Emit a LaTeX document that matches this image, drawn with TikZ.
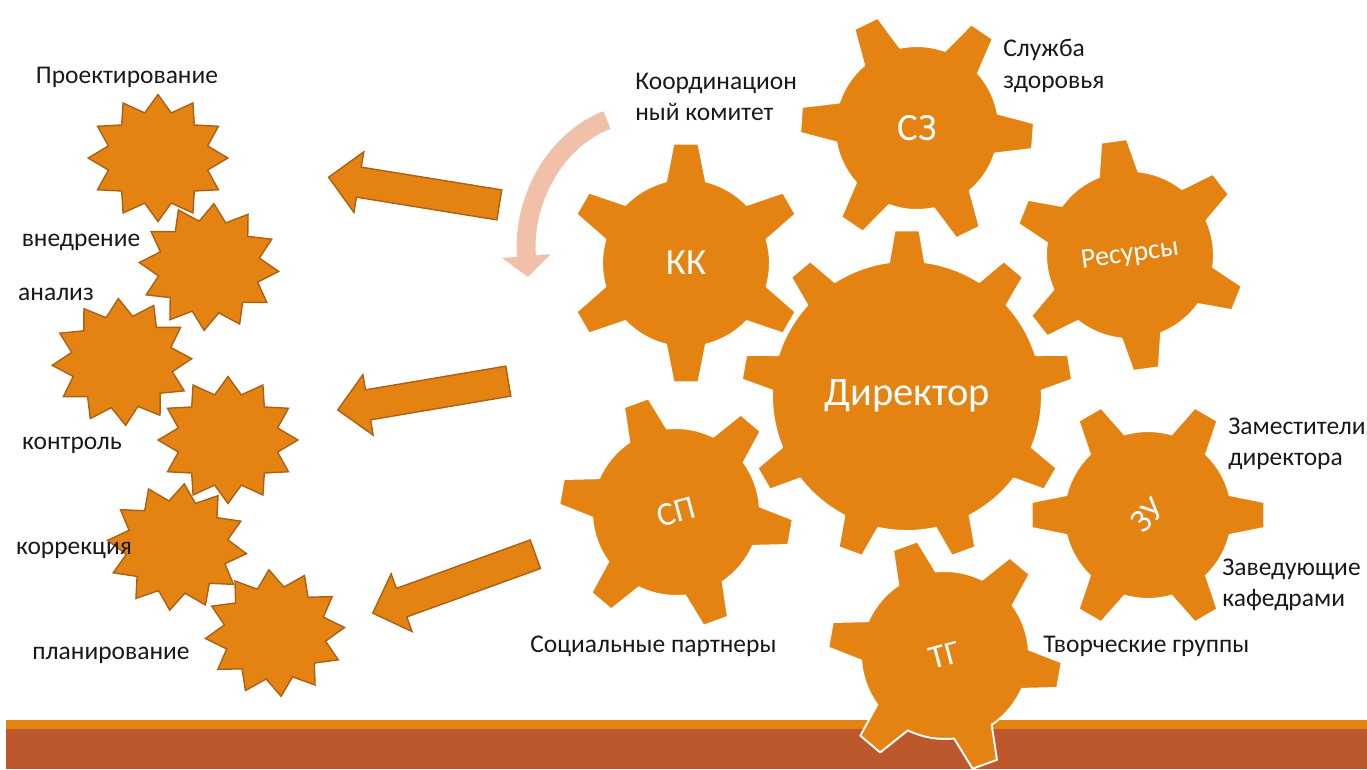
\documentclass[tikz,border=0pt]{standalone}
\usepackage{fontspec}
\setmainfont{Carlito}
\usetikzlibrary{positioning,calc,arrows.meta,shapes.geometric,shapes.arrows}

\definecolor{gearorange}{RGB}{228,131,18}
\definecolor{edgebrown}{RGB}{172,96,20}
\definecolor{rust}{RGB}{188,88,44}
\definecolor{paleorange}{RGB}{240,192,168}

% gear: centre, teeth, first tooth angle, root r, tip r, root half width, tip half width
\newcommand{\gear}[7]{%
  \pgfmathsetmacro\gstep{360/#2}%
  \pgfmathsetmacro\groot{asin(#6/#4)}%
  \pgfmathsetmacro\gtip{asin(#7/#5)}%
  \filldraw[gear body] ($(#1)+({#3-\groot}:#4)$)
    \foreach \k in {1,...,#2}{
      -- ($(#1)+({#3+(\k-1)*\gstep-\gtip}:#5)$)
      -- ($(#1)+({#3+(\k-1)*\gstep+\gtip}:#5)$)
      -- ($(#1)+({#3+(\k-1)*\gstep+\groot}:#4)$)
      arc[start angle={#3+(\k-1)*\gstep+\groot}, end angle={#3+\k*\gstep-\groot}, radius=#4]
    } -- cycle;}

\begin{document}
\begin{tikzpicture}[x=0.02cm,y=0.02cm,
  gear body/.style={fill=gearorange,draw=white,line width=1.1pt,line join=round},
  gear label/.style={text=white,inner sep=0pt},
  burst/.style={star,star points=12,star point ratio=1.36,minimum size=2.54cm,
    xscale=1.1,fill=gearorange,draw=edgebrown,line width=0.8pt,inner sep=0pt},
  block arrow/.style={single arrow,single arrow tip angle=90,single arrow head extend=0.31cm,
    minimum height=3.46cm,inner sep=0.29cm,fill=gearorange,draw=edgebrown,line width=0.8pt},
  soft arrow/.style={draw=paleorange,line width=0.38cm,-{Triangle[width=0.95cm,length=0.42cm]}},
  step label/.style={font=\fontsize{14.5}{18}\selectfont,inner sep=0pt,text=black!90},
  side label/.style={step label,align=left,anchor=west}]

  \useasboundingbox (0,0) rectangle (1367,-769);
  \clip (0,0) rectangle (1367,-769);

  % band at the bottom
  \fill[gearorange] (6,-720) rectangle (1367,-729);
  \fill[rust] (6,-729) rectangle (1367,-769);

  % stages
  \node[burst] (s1) at (158,-158) {};
  \node[burst,rotate=-4] (s2) at (209,-267) {};
  \node[burst,rotate=3] (s3) at (122,-362) {};
  \node[burst] (s4) at (228,-440) {};
  \node[burst,rotate=-6] (s5) at (177,-547) {};
  \node[burst,rotate=5] (s6) at (275,-633) {};

  \node[step label] (proj) at (127,-77) {Проектирование};
  \node[step label] (vnedr) at (81,-242) {внедрение};
  \node[step label] (anal) at (56,-294) {анализ};
  \node[step label] (kontr) at (72,-445) {контроль};
  \node[step label] (korr) at (74,-550) {коррекция};
  \node[step label] (plan) at (111,-655) {планирование};

  % arrows to the stages
  \coordinate (t1) at (500,-205);
  \coordinate (t2) at (509,-381);
  \coordinate (t3) at (536,-554);
  \node[block arrow,rotate=170.8,anchor=tail] (a1) at (t1) {};
  \node[block arrow,rotate=189.6,anchor=tail] (a2) at (t2) {};
  \node[block arrow,rotate=199.9,anchor=tail] (a3) at (t3) {};

  \coordinate (turn start) at (607,-120);
  \coordinate (turn end) at (528,-277);
  \draw[soft arrow] (turn start) .. controls (555,-140) and (522,-200) .. (turn end);

  % gears
  \coordinate (c dir) at (907,-396);
  \coordinate (c kk) at (686,-263);
  \coordinate (c sz) at (917,-128);
  \coordinate (c res) at (1130,-255);
  \coordinate (c zu) at (1148,-515);
  \coordinate (c sp) at (676,-512);
  \coordinate (c tg) at (945,-655);

  \gear{c dir}{9}{90}{135}{166}{18}{12.5}
  \gear{c kk}{6}{90}{84}{120}{20}{12.5}
  \gear{c sz}{6}{-4}{82}{117}{20}{13}
  \gear{c res}{6}{-22}{84}{116}{20}{13}
  \gear{c zu}{6}{0}{84}{117}{20}{13}
  \gear{c sp}{6}{-10}{84}{117}{20}{13}
  \gear{c tg}{6}{-10}{84}{117}{20}{13}

  \node[gear label,font=\fontsize{23}{23}\selectfont] (dir) at (c dir) {Директор};
  \node[gear label,font=\fontsize{21}{21}\selectfont] (kk) at (c kk) {КК};
  \node[gear label,font=\fontsize{22}{22}\selectfont] (sz) at (c sz) {СЗ};
  \node[gear label,font=\fontsize{16}{16}\selectfont,rotate=8] (res) at (c res) {Ресурсы};
  \node[gear label,font=\fontsize{19}{19}\selectfont,rotate=45] (zu) at (c zu) {ЗУ};
  \node[gear label,font=\fontsize{19}{19}\selectfont,rotate=15] (sp) at (c sp) {СП};
  \node[gear label,font=\fontsize{19}{19}\selectfont,rotate=15] (tg) at (c tg) {ТГ};

  % captions of the gears
  \node[side label] (kk text) at (635,-97) {Координацион\\ный комитет};
  \node[side label] (sz text) at (1003,-66) {Служба\\здоровья};
  \node[side label] (zam text) at (1228,-444) {Заместители\\директора};
  \node[side label] (zav text) at (1222,-585) {Заведующие\\кафедрами};
  \node[side label] (tg text) at (1043,-646) {Творческие группы};
  \node[side label] (sp text) at (530,-646) {Социальные партнеры};
\end{tikzpicture}
\end{document}
